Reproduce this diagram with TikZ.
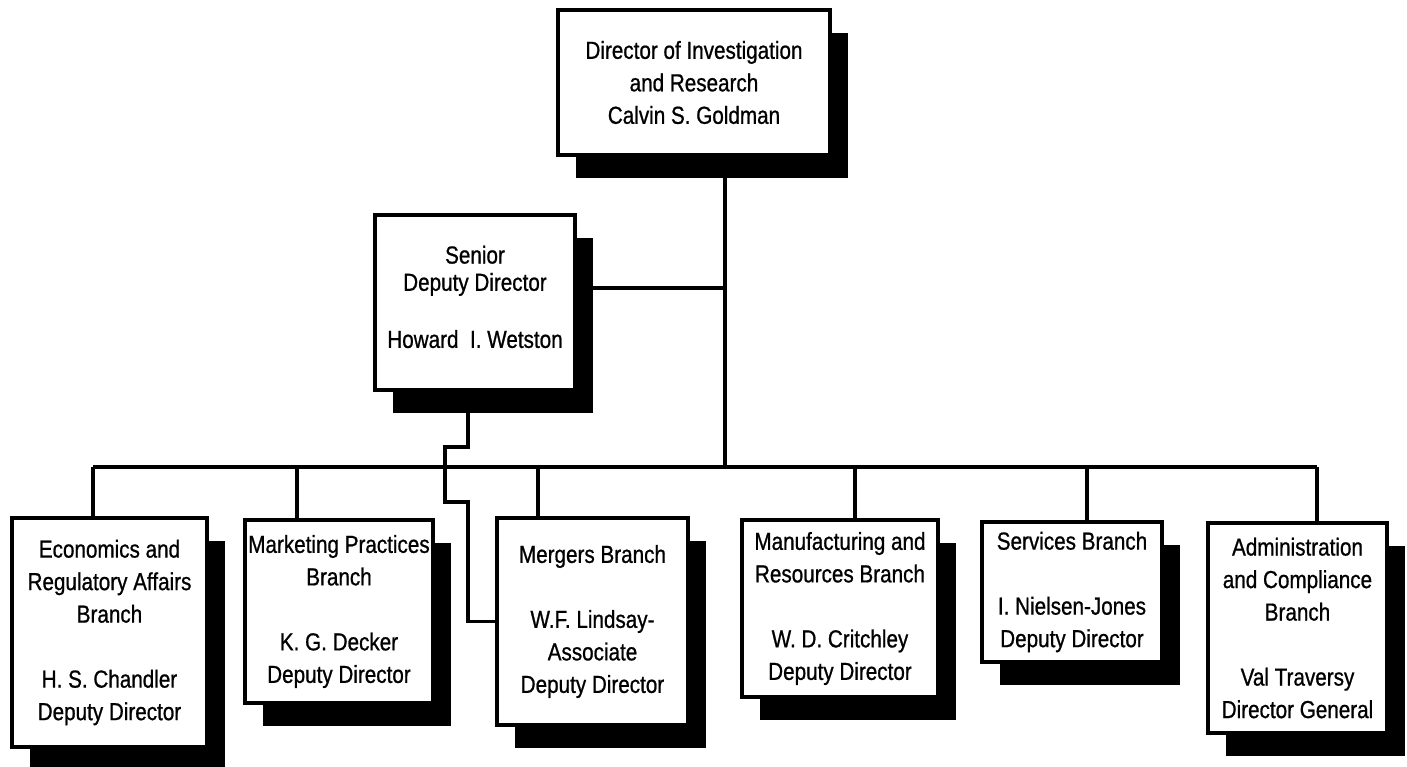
\documentclass[tikz,border=0pt]{standalone}
\usepackage{fontspec}
\setmainfont{Liberation Sans}[FakeStretch=0.84, FakeBold=0.8]
\usetikzlibrary{shadows}
\usetikzlibrary{positioning}
\usetikzlibrary{calc}

\tikzset{
  unitbox/.style={draw, line width=2pt, fill=white, align=center, inner sep=0pt,
    drop shadow={shadow xshift=0.36cm, shadow yshift=-0.46cm, opacity=1, fill=black}},
  link/.style={line width=2pt}
}

\begin{document}
\begin{tikzpicture}[x=0.02cm, y=-0.02cm, every node/.style={font=\fontsize{14}{18.5}\selectfont}]

	\useasboundingbox (0,0) rectangle (1407,767);

	\def\bus{467};

	% director and senior deputy
	\node[unitbox, minimum width=272*0.02cm, minimum height=145*0.02cm] (dir) at (694,82.5)
		{Director of Investigation\\and Research\\Calvin S. Goldman};
	\node[unitbox, minimum width=200*0.02cm, minimum height=175*0.02cm] (senior) at (475,302.5)
		{Senior\\[-3pt]Deputy Director\\[14pt]Howard~ I. Wetston\\[-12pt]\mbox{}};

	% branches
	\foreach \name/\x/\y/\w/\h/\txt in {
		econ/109.5/632.5/195/229/{Economics and\\Regulatory Affairs\\Branch\\[18.5pt]H. S. Chandler\\Deputy Director},
		mkt/339/611.5/188/183/{Marketing Practices\\Branch\\[18.5pt]K. G. Decker\\Deputy Director},
		mrg/592.5/621.5/191/207/{Mergers Branch\\[18.5pt]W.F. Lindsay-\\Associate\\Deputy Director},
		mfg/840/608.5/196/177/{Manufacturing and\\Resources Branch\\[18.5pt]W. D. Critchley\\Deputy Director},
		svc/1072/592/180/140/{Services Branch\\[18.5pt]I. Nielsen-Jones\\Deputy Director},
		adm/1297.5/628/179/210/{Administration\\and Compliance\\Branch\\[18.5pt]Val Traversy\\Director General}}{
		\node[unitbox, minimum width=\w*0.02cm, minimum height=\h*0.02cm] (\name) at (\x,\y) {\txt};
	}

	% bus and drops
	\foreach \name/\x in {econ/93, mkt/297, mrg/538, mfg/855, svc/1087, adm/1317}{
		\coordinate (b-\name) at (\x,\bus);
		\draw[link] (b-\name) -- (b-\name |- \name.north);
	}
	\draw[link] (b-econ) -- (b-adm);

	\coordinate (b-trunk) at (725,\bus);
	\coordinate (t-mid) at (725,288);
	\draw[link] (dir.south -| b-trunk) -- (b-trunk);
	\draw[link] (t-mid -| senior.east) -- (t-mid);

	% senior deputy to mergers, jumping over the bus
	\coordinate (jog) at (468,447);
	\draw[link] (senior.south -| jog) -- (jog) -- ++(-23,0) -- ++(0,55) -- ++(23,0) |- (mrg.west);

\end{tikzpicture}
\end{document}
